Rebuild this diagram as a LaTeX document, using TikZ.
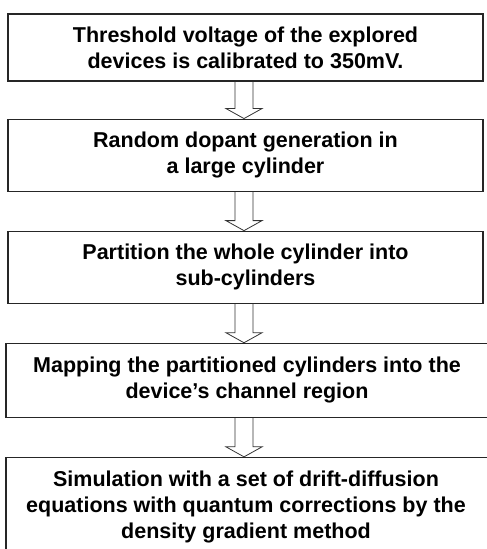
\documentclass[tikz,border=0pt]{standalone}
\usepackage{fontspec}
\setmainfont{Liberation Sans}
\usetikzlibrary{positioning, calc}

\tikzset{
	stage/.style={draw=black!85, line width=1.1pt, align=center, inner sep=0pt,
		font=\bfseries\fontsize{21.5}{26}\selectfont},
	hollow/.style={draw=black!80, line width=0.8pt, line join=miter}
}

%% seta vazada entre duas caixas
\newcommand{\flowarrow}[2]{%
	\draw[hollow] ($(#1.south -| ax)+(-9,0)$) -- ($(#2.north -| ax)+(-9,10)$) -- ++(-9,0)
	-- (#2.north -| ax) -- ++(18,10) -- ++(-9,0) -- ($(#1.south -| ax)+(9,0)$);}

\begin{document}
\begin{tikzpicture}[x=1pt, y=1pt]
				\clip (0,0) rectangle (487,549);
				\coordinate (ax) at (244,0);
				
				%% Caixas
				\node [stage, minimum width=475pt, minimum height=67pt] (calib) at (245.5,501.5)
				{Threshold voltage of the explored\\devices is calibrated to 350mV.};
				
				\node [stage, minimum width=475pt, minimum height=72pt, below=37pt of calib] (dopant)
				{Random dopant generation in\\a large cylinder};
				
				\node [stage, minimum width=475pt, minimum height=72pt, below=39pt of dopant] (part)
				{Partition the whole cylinder into\\sub-cylinders};
				
				\node [stage, minimum width=482pt, minimum height=74pt, below=39pt of part, xshift=1.5pt] (map)
				{Mapping the partitioned cylinders into the\\device’s channel region};
				
				\node [stage, minimum width=482pt, minimum height=115pt, below=39pt of map] (sim) {};
				\node [font=\bfseries\fontsize{21.5}{26}\selectfont, align=center, inner sep=0pt, anchor=north]
				(simtxt) at ($(sim.north)+(-1,-14)$)
				{Simulation with a set of drift-diffusion\\equations with quantum corrections by the\\density gradient method};
				
				%% Setas
				\flowarrow{calib}{dopant}
				\flowarrow{dopant}{part}
				\flowarrow{part}{map}
				\flowarrow{map}{sim}
\end{tikzpicture}
\end{document}
